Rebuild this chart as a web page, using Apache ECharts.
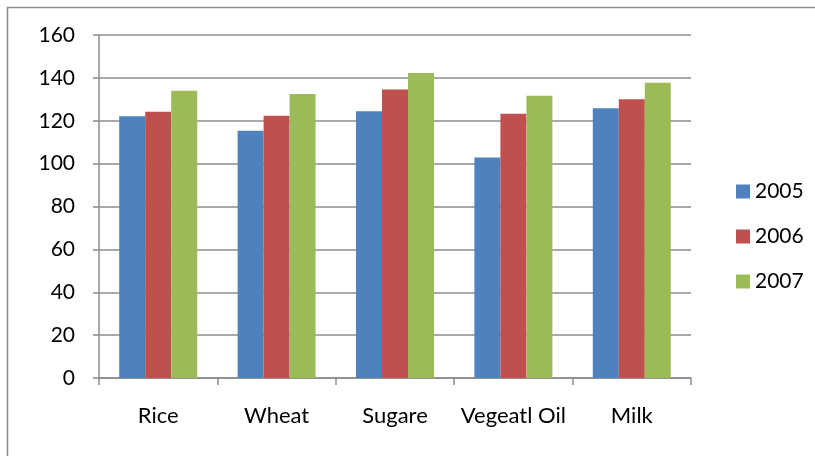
<!DOCTYPE html>
<html lang="en">
  <head>
    <meta charset="UTF-8" />
    <title>Food price index by year</title>
    <script src="https://cdn.jsdelivr.net/npm/echarts@6/dist/echarts.min.js"></script>
    <style>
      html, body { margin: 0; padding: 0; background: #fff; }
      #main { width: 815px; height: 456px; }
    </style>
  </head>
  <body>
    <div id="main"></div>
    <script>
      const categories = ['Rice', 'Wheat', 'Sugare', 'Vegeatl Oil', 'Milk'];
      const years = ['2005', '2006', '2007'];
      const values2005 = [122.1, 115.3, 124.4, 102.8, 125.8];
      const values2006 = [124.2, 122.3, 134.6, 123.3, 130.0];
      const values2007 = [134.0, 132.5, 142.3, 131.7, 137.7];
      const colors = ['#4F81BD', '#C0504D', '#9BBB59'];

      const font = 'Lato, "Noto Sans", sans-serif';
      const gray = '#8c8c8c';

      var myChart = echarts.init(document.getElementById('main'));

      const seriesData = [values2005, values2006, values2007];

      const options = {
        animation: false,
        color: colors,
        textStyle: { fontFamily: font },
        graphic: [
          {
            type: 'rect',
            shape: { x: 7.5, y: 7.5, width: 820, height: 460 },
            style: { fill: 'none', stroke: gray, lineWidth: 1.5 },
            silent: true,
          },
        ],
        grid: { left: 99, right: 124, top: 35, bottom: 78 },
        legend: {
          orient: 'vertical',
          left: 731,
          top: 176,
          itemWidth: 14,
          itemHeight: 14,
          itemGap: 24,
          icon: 'rect',
          data: years,
          textStyle: { fontSize: 21, fontFamily: font, color: '#000', lineHeight: 20 },
        },
        xAxis: {
          type: 'category',
          data: categories,
          axisLine: { lineStyle: { color: gray, width: 1.5 } },
          axisTick: { show: true, length: 7, lineStyle: { color: gray, width: 1.5 } },
          axisLabel: { fontSize: 22, color: '#000', fontFamily: font, margin: 27, interval: 0 },
        },
        yAxis: {
          type: 'value',
          min: 0,
          max: 160,
          interval: 20,
          axisLine: { show: true, lineStyle: { color: gray, width: 1.5 } },
          axisTick: { show: true, length: 6, lineStyle: { color: gray, width: 1.5 } },
          axisLabel: { fontSize: 21, color: '#000', fontFamily: font, margin: 24 },
          splitLine: { lineStyle: { color: gray, width: 1.5 } },
        },
        series: years.map((y, i) => ({
          name: y,
          type: 'bar',
          data: seriesData[i],
          barWidth: 26,
          barGap: '0%',
        })),
      };

      myChart.setOption(options);
    </script>
  </body>
</html>
